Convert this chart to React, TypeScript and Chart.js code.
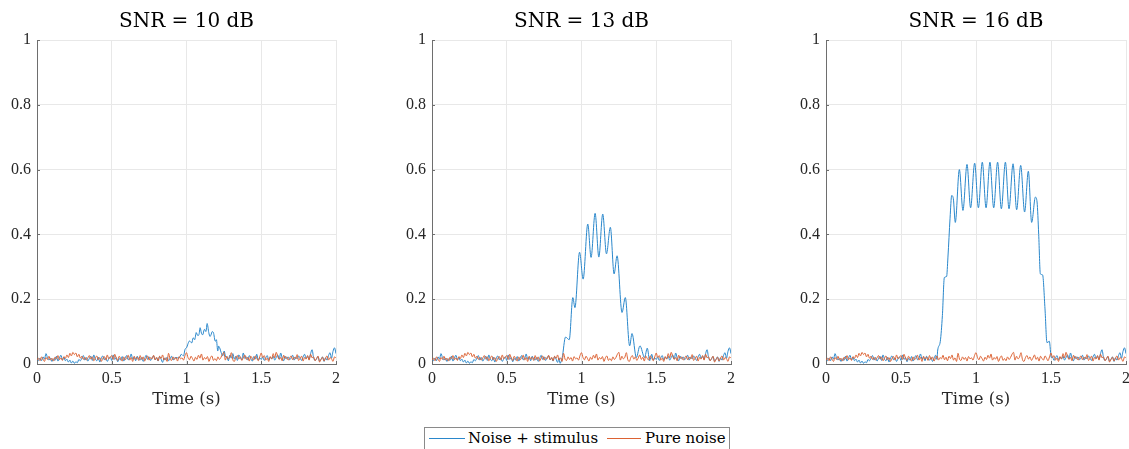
import React, { useEffect, useRef } from "react";
import { Chart, registerables } from "chart.js";

Chart.register(...registerables);

// ---------- data ----------
const NOISE_DT = 0.01; // sampling step of the noise traces (s), t = 0 .. 2

const PURE_NOISE = [
  0.012, 0.018, 0.010, 0.022, 0.015, 0.008, 0.020, 0.014, 0.024, 0.012,
  0.018, 0.009, 0.021, 0.016, 0.026, 0.013, 0.019, 0.011, 0.023, 0.017,
  0.028, 0.020, 0.033, 0.025, 0.036, 0.029, 0.034, 0.022, 0.030, 0.018,
  0.024, 0.014, 0.021, 0.012, 0.019, 0.026, 0.015, 0.022, 0.010, 0.018,
  0.025, 0.013, 0.020, 0.008, 0.017, 0.023, 0.012, 0.028, 0.016, 0.021,
  0.026, 0.014, 0.030, 0.018, 0.011, 0.024, 0.016, 0.009, 0.022, 0.013,
  0.019, 0.027, 0.012, 0.020, 0.008, 0.024, 0.015, 0.021, 0.011, 0.026,
  0.014, 0.022, 0.009, 0.018, 0.025, 0.012, 0.020, 0.016, 0.027, 0.013,
  0.021, 0.010, 0.024, 0.017, 0.028, 0.012, 0.019, 0.008, 0.033, 0.015,
  0.011, 0.022, 0.014, 0.020, 0.009, 0.023, 0.016, 0.019, 0.012, 0.026,
  0.035, 0.020, 0.013, 0.024, 0.017, 0.009, 0.021, 0.014, 0.027, 0.018,
  0.031, 0.012, 0.020, 0.015, 0.023, 0.008, 0.019, 0.025, 0.011, 0.017,
  0.010, 0.022, 0.014, 0.020, 0.030, 0.036, 0.012, 0.024, 0.016, 0.021,
  0.035, 0.013, 0.008, 0.020, 0.026, 0.015, 0.022, 0.011, 0.019, 0.028,
  0.014, 0.021, 0.009, 0.024, 0.017, 0.012, 0.025, 0.018, 0.010, 0.022,
  0.034, 0.020, 0.026, 0.012, 0.018, 0.008, 0.023, 0.015, 0.032, 0.019,
  0.036, 0.024, 0.014, 0.020, 0.010, 0.027, 0.017, 0.022, 0.012, 0.019,
  0.025, 0.013, 0.021, 0.016, 0.029, 0.011, 0.018, 0.024, 0.009, 0.020,
  0.015, 0.026, 0.012, 0.030, 0.019, 0.022, 0.010, 0.017, 0.024, 0.006,
  0.014, 0.021, 0.009, 0.018, 0.025, 0.012, 0.020, 0.016, 0.008, 0.022,
  0.018,
];

const BASE_NOISE = [
  0.005, 0.012, 0.018, 0.010, 0.022, 0.015, 0.032, 0.020, 0.012, 0.018,
  0.008, 0.016, 0.011, 0.024, 0.009, 0.019, 0.027, 0.013, 0.021, 0.010,
  0.015, 0.006, 0.012, 0.003, 0.009, 0.002, 0.007, 0.004, 0.014, 0.010,
  0.018, 0.026, 0.012, 0.020, 0.009, 0.017, 0.024, 0.011, 0.028, 0.015,
  0.010, 0.021, 0.006, 0.018, 0.025, 0.013, 0.019, 0.008, 0.016, 0.022,
  0.011, 0.028, 0.014, 0.020, 0.007, 0.017, 0.012, 0.023, 0.009, 0.019,
  0.026, 0.013, 0.018, 0.031, 0.015, 0.021, 0.010, 0.024, 0.016, 0.012,
  0.020, 0.008, 0.017, 0.027, 0.014, 0.022, 0.011, 0.019, 0.025, 0.013,
  0.018, 0.009, 0.023, 0.015, 0.005, 0.019, 0.013, 0.021, 0.010, 0.016,
  0.024, 0.012, 0.019, 0.008, 0.022, 0.015, 0.027, 0.011, 0.018, 0.014,
  0.020, 0.013, 0.025, 0.016, 0.010, 0.022, 0.014, 0.019, 0.026, 0.012,
  0.018, 0.009, 0.021, 0.015, 0.024, 0.011, 0.017, 0.028, 0.013, 0.020,
  0.016, 0.025, 0.012, 0.030, 0.019, 0.038, 0.014, 0.022, 0.010, 0.027,
  0.018, 0.032, 0.015, 0.024, 0.011, 0.028, 0.020, 0.013, 0.034, 0.017,
  0.022, 0.012, 0.026, 0.017, 0.009, 0.023, 0.015, 0.030, 0.012, 0.019,
  0.014, 0.022, 0.011, 0.019, 0.026, 0.013, 0.021, 0.016, 0.024, 0.012,
  0.020, 0.028, 0.015, 0.034, 0.018, 0.010, 0.024, 0.016, 0.022, 0.013,
  0.019, 0.027, 0.012, 0.021, 0.016, 0.025, 0.018, 0.011, 0.022, 0.030,
  0.017, 0.024, 0.014, 0.032, 0.044, 0.020, 0.011, 0.016, 0.023, 0.009,
  0.015, 0.022, 0.008, 0.019, 0.012, 0.026, 0.035, 0.018, 0.039, 0.050,
  0.032,
];

// stimulus segments of the "Noise + stimulus" traces
const STIM10_T = [0.93, 0.95, 0.965, 0.98, 0.99, 1.0, 1.02, 1.035, 1.045, 1.055, 1.065, 1.075, 1.083, 1.091, 1.1, 1.108, 1.12, 1.13, 1.138, 1.149, 1.157, 1.164, 1.172, 1.18, 1.193, 1.2, 1.209, 1.215, 1.222, 1.232, 1.242, 1.252, 1.262];
const STIM10_V = [0.02, 0.018, 0.03, 0.025, 0.045, 0.05, 0.071, 0.065, 0.081, 0.075, 0.097, 0.088, 0.09, 0.112, 0.095, 0.09, 0.107, 0.1, 0.125, 0.097, 0.085, 0.09, 0.1, 0.097, 0.07, 0.075, 0.04, 0.055, 0.05, 0.035, 0.025, 0.04, 0.022];

const STIM13_T = [0.856, 0.871, 0.893, 0.918, 0.942, 0.956, 0.987, 1.011, 1.042, 1.064, 1.091, 1.116, 1.142, 1.167, 1.193, 1.218, 1.238, 1.271, 1.293, 1.322, 1.338, 1.367, 1.391, 1.422, 1.44, 1.456];
const STIM13_V = [0.002, 0.02, 0.083, 0.075, 0.205, 0.174, 0.345, 0.262, 0.432, 0.329, 0.465, 0.33, 0.463, 0.34, 0.422, 0.278, 0.334, 0.159, 0.205, 0.056, 0.094, 0.02, 0.056, 0.02, 0.049, 0.01];

const STIM16_T = [0.744, 0.762, 0.776, 0.789, 0.804, 0.813, 0.827, 0.838, 0.849, 0.862, 0.889, 0.913, 0.94, 0.964, 0.991, 1.016, 1.042, 1.067, 1.093, 1.118, 1.144, 1.169, 1.196, 1.22, 1.247, 1.271, 1.298, 1.324, 1.349, 1.371, 1.396, 1.407, 1.418, 1.429, 1.444, 1.46, 1.473, 1.489, 1.502];
const STIM16_V = [0.04, 0.07, 0.15, 0.267, 0.27, 0.33, 0.45, 0.52, 0.51, 0.437, 0.6, 0.474, 0.616, 0.482, 0.62, 0.482, 0.623, 0.482, 0.623, 0.482, 0.623, 0.479, 0.623, 0.479, 0.618, 0.476, 0.613, 0.469, 0.595, 0.437, 0.515, 0.5, 0.4, 0.278, 0.275, 0.17, 0.066, 0.07, 0.02];

const TITLES = ["SNR = 10 dB", "SNR = 13 dB", "SNR = 16 dB"];
const X_TICKS = [0, 0.5, 1, 1.5, 2];
const Y_TICKS = [0, 0.2, 0.4, 0.6, 0.8, 1];
const X_LABEL = "Time (s)";
const LEGEND_LABELS = ["Noise + stimulus", "Pure noise"];

// ---------- style ----------
const BLUE = "#2a87cb";
const ORANGE = "#dc6233";
const FONT = "'DejaVu Serif', serif";
const NUM_FONT = "'Liberation Serif', serif";
const PLOT_LEFTS = [37, 432, 826];
const PLOT_WIDTHS = [299, 299, 300];
const Y_AXIS_W = 36;
const RIGHT_PAD = 8;
const TOP_PAD = 40;
const TITLE_Y = 22;
const CANVAS_H = 420;
const X_AXIS_H = 56;

function noisePoints(values: number[]) {
  return values.map((v, i) => ({ x: +(i * NOISE_DT).toFixed(2), y: v }));
}

function stimulusTrace(stimT: number[], stimV: number[]) {
  const start = stimT[0];
  const end = stimT[stimT.length - 1];
  const base = noisePoints(BASE_NOISE);
  const pts: { x: number; y: number }[] = [];
  base.forEach((p) => { if (p.x < start - 1e-9) pts.push(p); });
  stimT.forEach((t, i) => pts.push({ x: t, y: stimV[i] }));
  base.forEach((p) => { if (p.x > end + 1e-9) pts.push(p); });
  return pts;
}

const STIMS: [number[], number[]][] = [
  [STIM10_T, STIM10_V],
  [STIM13_T, STIM13_V],
  [STIM16_T, STIM16_V],
];

const innerTicks = {
  id: "innerTicks",
  afterDraw(chart: any) {
    const { ctx, chartArea, scales } = chart;
    ctx.save();
    ctx.strokeStyle = "#6e6e6e";
    ctx.lineWidth = 1;
    ctx.beginPath();
    X_TICKS.forEach((v) => {
      const x = Math.round(scales.x.getPixelForValue(v)) + 0.5;
      ctx.moveTo(x, chartArea.bottom);
      ctx.lineTo(x, chartArea.bottom - 3);
    });
    Y_TICKS.forEach((v) => {
      const y = Math.round(scales.y.getPixelForValue(v)) + 0.5;
      ctx.moveTo(chartArea.left, y);
      ctx.lineTo(chartArea.left + 3, y);
    });
    ctx.stroke();
    ctx.restore();
  },
};

// title centred over the plot area (not over the whole canvas)
const panelTitle = {
  id: "panelTitle",
  afterDraw(chart: any, _args: any, opts: any) {
    const { ctx, chartArea } = chart;
    ctx.save();
    ctx.font = `20px ${FONT}`;
    ctx.fillStyle = "#000";
    ctx.textAlign = "center";
    ctx.textBaseline = "middle";
    ctx.fillText(opts.text, (chartArea.left + chartArea.right) / 2, TITLE_Y);
    ctx.restore();
  },
};

function Panel({ idx }: { idx: number }) {
  const ref = useRef<HTMLCanvasElement | null>(null);
  useEffect(() => {
    if (!ref.current) return;
    const [st, sv] = STIMS[idx];
    const chart = new Chart(ref.current, {
      type: "line",
      data: {
        datasets: [
          {
            label: LEGEND_LABELS[0],
            data: stimulusTrace(st, sv),
            borderColor: BLUE,
            borderWidth: 1,
            pointRadius: 0,
            cubicInterpolationMode: "monotone",
            order: 1,
          },
          {
            label: LEGEND_LABELS[1],
            data: noisePoints(PURE_NOISE),
            borderColor: ORANGE,
            borderWidth: 1,
            pointRadius: 0,
            cubicInterpolationMode: "monotone",
            order: 0,
          },
        ],
      },
      options: {
        animation: false,
        responsive: false,
        devicePixelRatio: 1,
        parsing: false,
        normalized: true,
        events: [],
        layout: { padding: { left: 0, right: RIGHT_PAD, top: TOP_PAD, bottom: 0 } },
        plugins: {
          legend: { display: false },
          tooltip: { enabled: false },
          title: { display: false },
          panelTitle: { text: TITLES[idx] },
        },
        scales: {
          x: {
            type: "linear",
            min: 0,
            max: 2,
            afterBuildTicks: (s: any) => { s.ticks = X_TICKS.map((v) => ({ value: v })); },
            afterFit: (s: any) => { s.height = X_AXIS_H; s.paddingLeft = 0; s.paddingRight = 0; },
            ticks: {
              color: "#262626",
              padding: 5,
              maxRotation: 0,
              font: { family: NUM_FONT, size: 16, lineHeight: 1.2 },
              callback: (v: any) => String(v),
            },
            grid: { color: "#e8e8e8", drawTicks: false, lineWidth: 1 },
            border: { display: true, color: "#6e6e6e", width: 1 },
            title: {
              display: true,
              text: X_LABEL,
              color: "#262626",
              font: { family: FONT, size: 16.5, lineHeight: 1.2 },
              padding: { top: 0, bottom: 10 },
            },
          },
          y: {
            type: "linear",
            min: 0,
            max: 1,
            afterBuildTicks: (s: any) => { s.ticks = Y_TICKS.map((v) => ({ value: v })); },
            afterFit: (s: any) => { s.width = Y_AXIS_W; s.paddingTop = 0; s.paddingBottom = 0; },
            ticks: {
              color: "#262626",
              padding: 6,
              font: { family: NUM_FONT, size: 16 },
              callback: (v: any) => String(v),
            },
            grid: { color: "#e8e8e8", drawTicks: false, lineWidth: 1 },
            border: { display: true, color: "#6e6e6e", width: 1 },
          },
        },
      },
      plugins: [innerTicks, panelTitle],
    } as any);
    return () => chart.destroy();
  }, [idx]);

  const w = Y_AXIS_W + PLOT_WIDTHS[idx] + RIGHT_PAD;
  return (
    <canvas
      ref={ref}
      width={w}
      height={CANVAS_H}
      style={{
        position: "absolute",
        left: PLOT_LEFTS[idx] - Y_AXIS_W,
        top: 0,
        width: w,
        height: CANVAS_H,
      }}
    />
  );
}

function Legend() {
  const text: React.CSSProperties = {
    position: "absolute",
    top: 0,
    fontFamily: FONT,
    fontSize: 15,
    lineHeight: "21px",
    color: "#000",
    whiteSpace: "nowrap",
  };
  const line = (color: string, left: number, width: number): React.CSSProperties => ({
    position: "absolute",
    left,
    top: 10,
    width,
    height: 1,
    background: color,
  });
  return (
    <div
      style={{
        position: "absolute",
        left: 424,
        top: 427,
        width: 306,
        height: 30,
        border: "1px solid #8a8a8a",
        background: "#fff",
        boxSizing: "border-box",
      }}
    >
      <div style={line(BLUE, 4, 36)} />
      <div style={{ ...text, left: 43 }}>{LEGEND_LABELS[0]}</div>
      <div style={line(ORANGE, 182, 34)} />
      <div style={{ ...text, left: 220 }}>{LEGEND_LABELS[1]}</div>
    </div>
  );
}

export default function App() {
  return (
    <div
      style={{
        position: "fixed",
        left: 0,
        top: 0,
        width: 1129,
        height: 449,
        overflow: "hidden",
        background: "#fff",
      }}
    >
      <Panel idx={0} />
      <Panel idx={1} />
      <Panel idx={2} />
      <Legend />
    </div>
  );
}
